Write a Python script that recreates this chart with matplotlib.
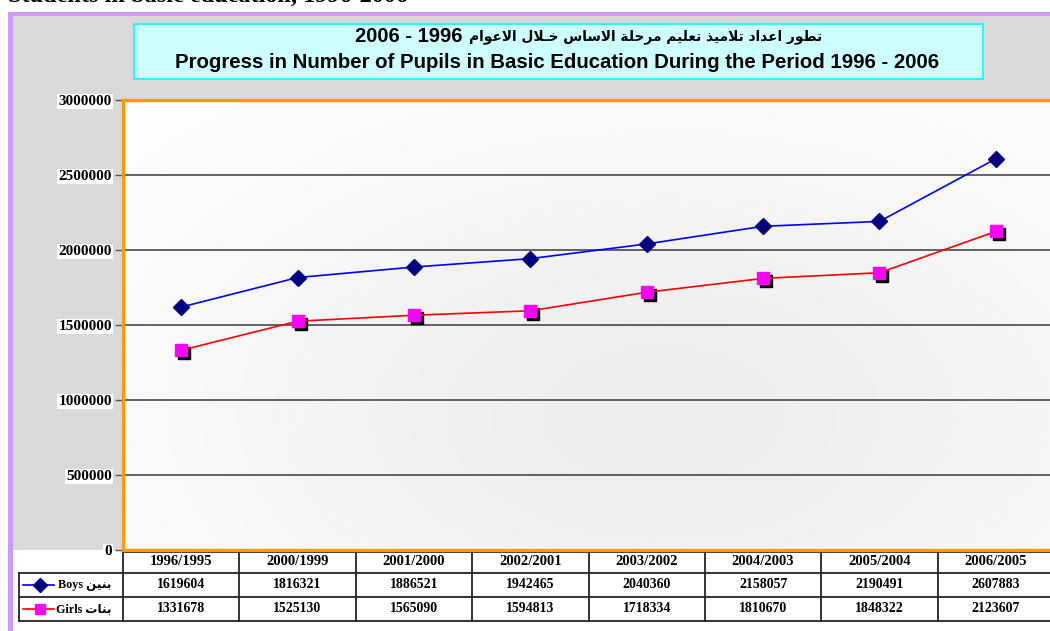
import numpy as np
import matplotlib.pyplot as plt
from matplotlib.patches import Rectangle
from matplotlib.lines import Line2D
from matplotlib import transforms

# data
years = ['1996/1995', '2000/1999', '2001/2000', '2002/2001',
         '2003/2002', '2004/2003', '2005/2004', '2006/2005']
boys = [1619604, 1816321, 1886521, 1942465, 2040360, 2158057, 2190491, 2607883]
girls = [1331678, 1525130, 1565090, 1594813, 1718334, 1810670, 1848322, 2123607]
yticks = [0, 500000, 1000000, 1500000, 2000000, 2500000, 3000000]

title_ar = 'تطور اعداد تلاميذ تعليم مرحلة الاساس خـلال الاعوام'
title_num = '2006 - 1996'
title_en = 'Progress in Number of Pupils in Basic Education During the Period 1996 - 2006'
top_text = 'Students in basic education, 1996-2006'
boys_ar = 'بنين'
girls_ar = 'بنات'

# matplotlib has no arabic shaping, so map letters to presentation forms by hand
FORMS = {
    '\u0627': (0xFE8D, 0xFE8E, None, None),
    '\u0628': (0xFE8F, 0xFE90, 0xFE91, 0xFE92),
    '\u0629': (0xFE93, 0xFE94, None, None),
    '\u062A': (0xFE95, 0xFE96, 0xFE97, 0xFE98),
    '\u062D': (0xFEA1, 0xFEA2, 0xFEA3, 0xFEA4),
    '\u062E': (0xFEA5, 0xFEA6, 0xFEA7, 0xFEA8),
    '\u062F': (0xFEA9, 0xFEAA, None, None),
    '\u0630': (0xFEAB, 0xFEAC, None, None),
    '\u0631': (0xFEAD, 0xFEAE, None, None),
    '\u0633': (0xFEB1, 0xFEB2, 0xFEB3, 0xFEB4),
    '\u0637': (0xFEC1, 0xFEC2, 0xFEC3, 0xFEC4),
    '\u0639': (0xFEC9, 0xFECA, 0xFECB, 0xFECC),
    '\u0644': (0xFEDD, 0xFEDE, 0xFEDF, 0xFEE0),
    '\u0645': (0xFEE1, 0xFEE2, 0xFEE3, 0xFEE4),
    '\u0646': (0xFEE5, 0xFEE6, 0xFEE7, 0xFEE8),
    '\u0648': (0xFEED, 0xFEEE, None, None),
    '\u064A': (0xFEF1, 0xFEF2, 0xFEF3, 0xFEF4),
    '\u0640': (0x0640, 0x0640, 0x0640, 0x0640),
}


def shape_ar(text):
    units = []
    i = 0
    while i < len(text):
        if text[i] == '\u0644' and i + 1 < len(text) and text[i + 1] == '\u0627':
            units.append('LA')
            i += 2
        else:
            units.append(text[i])
            i += 1

    def dual(u):
        return u in FORMS and FORMS[u][2] is not None

    def joins(u):
        return u == 'LA' or u in FORMS

    out = []
    for k, u in enumerate(units):
        prev = units[k - 1] if k > 0 else None
        nxt = units[k + 1] if k + 1 < len(units) else None
        jp = prev is not None and dual(prev) and joins(u)
        if u == 'LA':
            out.append(chr(0xFEFC if jp else 0xFEFB))
            continue
        if u not in FORMS:
            out.append(u)
            continue
        jn = dual(u) and nxt is not None and joins(nxt)
        f = FORMS[u]
        if jp and jn:
            code = f[3]
        elif jp:
            code = f[1]
        elif jn:
            code = f[2]
        else:
            code = f[0]
        out.append(chr(code))
    return ''.join(reversed(out))


W, H = 1050, 631
fig = plt.figure(figsize=(W / 100, H / 100), dpi=100)
fig.patch.set_facecolor('white')


def fx(x):
    return x / W


def fy(y):
    return 1 - y / H


serif = ['Liberation Serif', 'DejaVu Serif']
sans = ['Liberation Sans', 'DejaVu Sans']
mixed = ['Liberation Serif', 'DejaVu Sans']

# frame, grey chart area and title box
fig.patches.append(Rectangle((fx(8), -0.1), 1.2, fy(12) + 0.1, transform=fig.transFigure,
                             facecolor='#cc99ff', edgecolor='none', zorder=-3))
fig.patches.append(Rectangle((fx(13), -0.1), 1.2, fy(16) + 0.1, transform=fig.transFigure,
                             facecolor='white', edgecolor='none', zorder=-2))
fig.patches.append(Rectangle((fx(13), fy(550)), 1.2, fy(16) - fy(550), transform=fig.transFigure,
                             facecolor='#d9d9d9', edgecolor='none', zorder=-1))
fig.patches.append(Rectangle((fx(134), fy(79)), fx(983 - 134), fy(24) - fy(79),
                             transform=fig.transFigure, facecolor='#ccffff',
                             edgecolor='#00ffff', linewidth=1.2, zorder=1))

fig.text(fx(8), fy(1.5), top_text, fontsize=17.5, fontweight='bold', family=serif,
         ha='left', va='baseline')
fig.text(fx(355), fy(37), title_num, fontsize=14.5, fontweight='bold', family=sans,
         ha='left', va='center', zorder=2)
fig.text(fx(822), fy(37), shape_ar(title_ar), fontsize=9.9, fontweight='bold',
         family=['DejaVu Sans'], ha='right', va='center', zorder=2)
fig.text(fx(557), fy(62), title_en, fontsize=14.7, fontweight='bold', family=sans,
         ha='center', va='center', zorder=2)

# plot area; right edge runs past the picture like the original
ax = fig.add_axes([fx(123), fy(550), fx(931), fy(100) - fy(550)])
ax.set_zorder(2)
ax.set_xlim(-0.5, len(years) - 0.5)
ax.set_ylim(0, 3000000)

gx, gy = np.meshgrid(np.linspace(0, 1, 300), np.linspace(0, 1, 200))
shade = 1 - 0.07 * np.exp(-(((gx - 0.58) / 0.55) ** 2 + ((gy - 0.3) / 0.65) ** 2))
ax.imshow(shade, cmap='gray', vmin=0, vmax=1, extent=(-0.5, len(years) - 0.5, 0, 3000000),
          aspect='auto', origin='lower', interpolation='bilinear', zorder=0)

for v in yticks[1:-1]:
    ax.axhline(v, color='#3a3a3a', linewidth=1.1, zorder=1)

x = np.arange(len(years))
ax.plot(x, boys, color='#0000ff', linewidth=1.2, marker='D', markersize=8,
        markerfacecolor='#000080', markeredgecolor='#000080', zorder=3)
shadow = transforms.offset_copy(ax.transData, fig=fig, x=3, y=-3, units='dots')
ax.plot(x, girls, linestyle='none', marker='s', markersize=8.5, color='black',
        transform=shadow, zorder=2)
ax.plot(x, girls, color='#ff0000', linewidth=1.2, marker='s', markersize=8.5,
        markerfacecolor='#ff00ff', markeredgecolor='#ff00ff', zorder=3)

ax.set_xticks([])
ax.set_yticks(yticks)
ax.set_yticklabels([str(v) for v in yticks])
ax.tick_params(axis='y', length=6, width=1, color='#555555', pad=2)
for lab in ax.get_yticklabels():
    lab.set_fontfamily(serif)
    lab.set_fontweight('bold')
    lab.set_fontsize(11)
    lab.set_bbox(dict(facecolor='white', edgecolor='none', pad=1))
for side in ['left', 'top', 'bottom']:
    ax.spines[side].set_color('#ff9900')
    ax.spines[side].set_linewidth(2.4)
ax.spines['right'].set_visible(False)

# data table under the plot
tx = transforms.blended_transform_factory(ax.transData, fig.transFigure)
line_kw = dict(color='#222222', linewidth=1.3)
row_y = [550, 573, 597, 621]
for y in row_y[1:]:
    fig.add_artist(Line2D([fx(19), 1.0], [fy(y), fy(y)], transform=fig.transFigure, **line_kw))
fig.add_artist(Line2D([fx(123), 1.0], [fy(552), fy(552)], transform=fig.transFigure, **line_kw))
fig.add_artist(Line2D([fx(19), fx(19)], [fy(573), fy(621)], transform=fig.transFigure, **line_kw))
for i in range(len(years)):
    fig.add_artist(Line2D([i - 0.5, i - 0.5], [fy(550), fy(621)], transform=tx, **line_kw))
    fig.text(i, fy(561.5), years[i], transform=tx, ha='center', va='center',
             fontsize=10.5, fontweight='bold', family=serif)
    fig.text(i, fy(585), str(boys[i]), transform=tx, ha='center', va='center',
             fontsize=10, fontweight='bold', family=serif)
    fig.text(i, fy(609), str(girls[i]), transform=tx, ha='center', va='center',
             fontsize=10, fontweight='bold', family=serif)

fig.add_artist(Line2D([fx(23), fx(40), fx(54)], [fy(585)] * 3, color='#0000ff', linewidth=1.2,
                      marker='D', markevery=[1], markersize=7, markerfacecolor='#000080',
                      markeredgecolor='#000080', transform=fig.transFigure))
fig.add_artist(Line2D([fx(23), fx(40), fx(54)], [fy(609)] * 3, color='#ff0000', linewidth=1.2,
                      marker='s', markevery=[1], markersize=7.5, markerfacecolor='#ff00ff',
                      markeredgecolor='#ff00ff', transform=fig.transFigure))
fig.text(fx(111), fy(585), 'Boys ' + shape_ar(boys_ar), ha='right', va='center',
         fontsize=8.7, fontweight='bold', family=mixed)
fig.text(fx(111), fy(609), 'Girls ' + shape_ar(girls_ar), ha='right', va='center',
         fontsize=8.7, fontweight='bold', family=mixed)

fig.savefig('out.png', dpi=100)
